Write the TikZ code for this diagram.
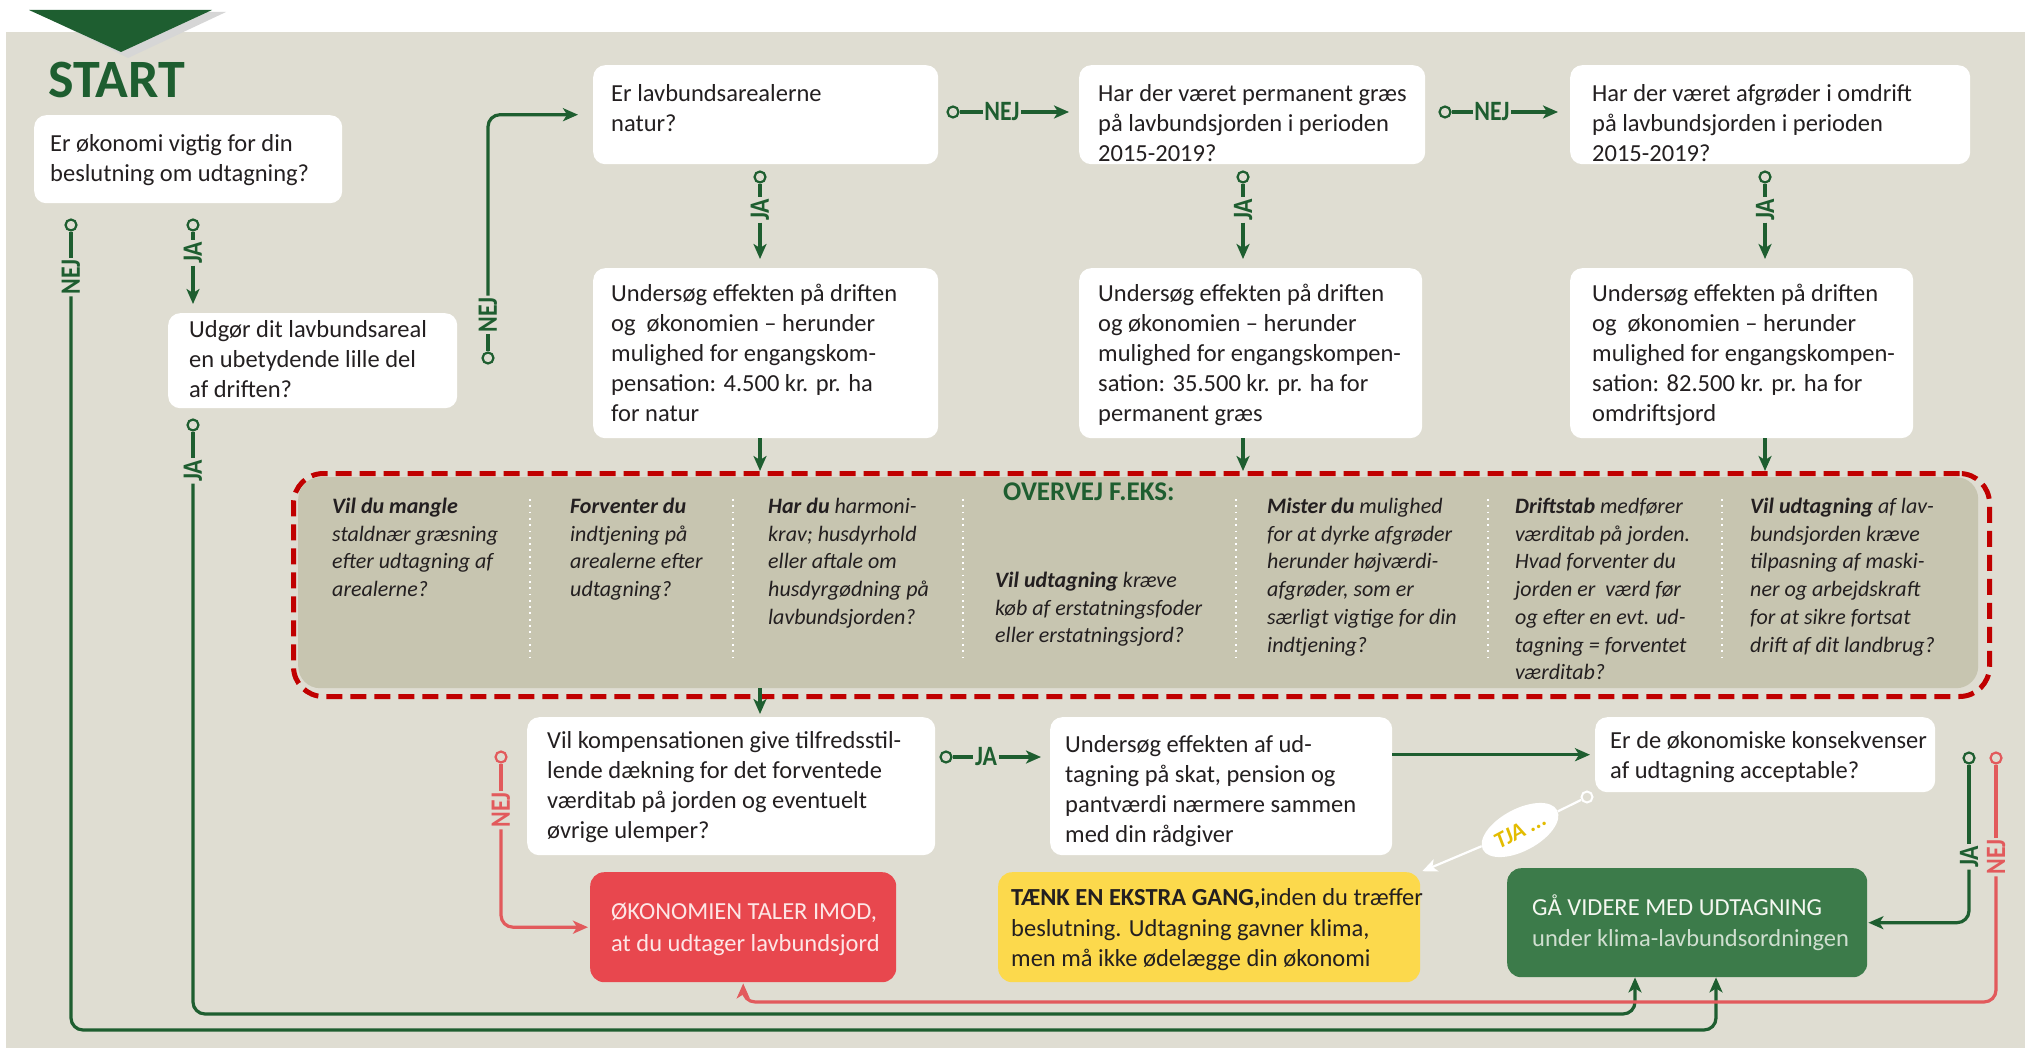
\documentclass[tikz,border=0pt]{standalone}
\usepackage{fontspec}
\setmainfont{Carlito}
\newfontfamily\labfont{Carlito}[FakeStretch=0.85]
\usetikzlibrary{arrows.meta,calc,shapes.geometric}

\definecolor{bgc}{HTML}{DFDDD2}
\definecolor{dkg}{HTML}{1E5E30}
\definecolor{bandc}{HTML}{C7C5B0}
\definecolor{dred}{HTML}{C00000}
\definecolor{rbox}{HTML}{E8474E}
\definecolor{rline}{HTML}{E25A5C}
\definecolor{ybox}{HTML}{FCD94C}
\definecolor{gbox}{HTML}{3C7B4A}
\definecolor{txt}{HTML}{231F20}
\definecolor{tjay}{HTML}{E3BC00}
\definecolor{lighttx}{HTML}{F4F7F0}
\definecolor{pinktx}{HTML}{FDE6E6}

\tikzset{
  qbox/.style={fill=white, rounded corners=12pt, inner sep=0pt, anchor=north west},
  tx/.style={inner sep=0pt, align=left, anchor=north west, text=txt, font=\fontsize{24.5}{30}\selectfont},
  bandtx/.style={inner sep=0pt, align=left, anchor=north west, text=txt, font=\itshape\fontsize{22}{27.7}\selectfont},
  gl/.style={draw=dkg, line width=3.2pt},
  rl/.style={draw=rline, line width=3.2pt},
  arr/.style={-{Stealth[length=15pt,width=13pt,inset=4pt]}},
  gcirc/.style={circle, draw=dkg, line width=2.2pt, fill=bgc, inner sep=0pt, minimum size=11pt},
  rcirc/.style={gcirc, draw=rline},
  glab/.style={inner sep=1.5pt, text=dkg, font=\labfont\bfseries\fontsize{28}{28}\selectfont},
  rlab/.style={glab, text=rline},
  sep/.style={draw=white, line width=1.8pt, dash pattern=on 1.8pt off 4.5pt},
}

\begin{document}
\begin{tikzpicture}[x=1pt,y=-1pt]
\useasboundingbox (0,0) rectangle (2025,1048);
\fill[white] (0,0) rectangle (2025,1048);
\fill[bgc] (6,32) rectangle (2025,1048);
% chevron
\fill[black!16] (36,12) -- (226,12) -- (128,58) -- cycle;
\fill[dkg] (29,10) -- (212,10) -- (121,52) -- cycle;

\coordinate (xa) at (760,0);
\coordinate (xb) at (1243,0);
\coordinate (xc) at (1765,0);
\coordinate (yLA) at (0,1030);
\coordinate (yLB) at (0,1014);
\coordinate (yLR) at (0,1002);
\coordinate (xF1) at (1635,0);
\coordinate (xF2) at (1716,0);

\node[anchor=base west, text=dkg, font=\bfseries\fontsize{54}{54}\selectfont, inner sep=0pt] (start) at (48,98) {START};

% ---- boxes ----
\node[qbox, minimum width=308pt, minimum height=88pt] (bA) at (34,115) {};
\node[tx] (bAt) at ($(bA.north west)+(16,15)$) {\strut Er økonomi vigtig for din\\beslutning om udtagning?};

\node[qbox, minimum width=289pt, minimum height=95pt] (bB) at (168,313) {};
\node[tx] (bBt) at ($(bB.north west)+(21,3)$) {\strut Udgør dit lavbundsareal\\en ubetydende lille del\\af driften?};

\node[qbox, minimum width=345pt, minimum height=99pt] (r1a) at (593,65) {};
\node[tx] (r1at) at ($(r1a.north west)+(18,15)$) {\strut Er lavbundsarealerne\\natur?};

\node[qbox, minimum width=346pt, minimum height=99pt] (r1b) at (1079,65) {};
\node[tx] (r1bt) at ($(r1b.north west)+(19,15)$) {\strut Har der været permanent græs\\på lavbundsjorden i perioden\\2015-2019?};

\node[qbox, minimum width=400pt, minimum height=99pt] (r1c) at (1570,65) {};
\node[tx] (r1ct) at ($(r1c.north west)+(22,15)$) {\strut Har der været afgrøder i omdrift\\på lavbundsjorden i perioden\\2015-2019?};

\node[qbox, minimum width=345pt, minimum height=170pt] (r2a) at (593,268) {};
\node[tx] (r2at) at ($(r2a.north west)+(18,12)$) {\strut Undersøg effekten på driften\\og\ \ økonomien -- herunder\\mulighed for engangskom-\\pensation: 4.500 kr. pr. ha\\for natur};

\node[qbox, minimum width=343pt, minimum height=170pt] (r2b) at (1079,268) {};
\node[tx] (r2bt) at ($(r2b.north west)+(19,12)$) {\strut Undersøg effekten på driften\\og økonomien -- herunder\\mulighed for engangskompen-\\sation: 35.500 kr. pr. ha for\\permanent græs};

\node[qbox, minimum width=343pt, minimum height=170pt] (r2c) at (1570,268) {};
\node[tx] (r2ct) at ($(r2c.north west)+(22,12)$) {\strut Undersøg effekten på driften\\og\ \ økonomien -- herunder\\mulighed for engangskompen-\\sation: 82.500 kr. pr. ha for\\omdriftsjord};

% ---- band ----
\node[draw=dred, line width=5pt, dash pattern=on 16pt off 8pt, rounded corners=30pt, minimum width=1696pt, minimum height=223pt, anchor=north west, inner sep=0pt] (band) at (291,471) {};
\node[fill=bandc, rounded corners=22pt, minimum width=1680pt, minimum height=211pt, anchor=north west, inner sep=0pt] (bandin) at (298,477) {};

\draw[sep] (530,499) -- (530,659);
\draw[sep] (733,499) -- (733,659);
\draw[sep] (963,499) -- (963,659);
\draw[sep] (1236,499) -- (1236,659);
\draw[sep] (1488,499) -- (1488,659);
\draw[sep] (1722,499) -- (1722,659);

\node[bandtx] (c1) at (332,494) {\strut\textbf{Vil du mangle}\\staldnær græsning\\efter udtagning af\\arealerne?};
\node[bandtx] (c2) at (570,494) {\strut\textbf{Forventer du}\\indtjening på\\arealerne efter\\udtagning?};
\node[bandtx] (c3) at (768,494) {\strut\textbf{Har du} harmoni-\\krav; husdyrhold\\eller aftale om\\husdyrgødning på\\lavbundsjorden?};
\node[anchor=west, text=dkg, font=\bfseries\fontsize{27}{27}\selectfont, inner sep=0pt] (overvej) at (1003,492) {OVERVEJ F.EKS:};
\node[bandtx] (c4) at (995,568) {\strut\textbf{Vil udtagning} kræve\\køb af erstatningsfoder\\eller erstatningsjord?};
\node[bandtx] (c5) at (1267,494) {\strut\textbf{Mister du} mulighed\\for at dyrke afgrøder\\herunder højværdi-\\afgrøder, som er\\særligt vigtige for din\\indtjening?};
\node[bandtx] (c6) at (1515,494) {\strut\textbf{Driftstab} medfører\\værditab på jorden.\\Hvad forventer du\\jorden er\ \ værd før\\og efter en evt. ud-\\tagning = forventet\\værditab?};
\node[bandtx] (c7) at (1750,494) {\strut\textbf{Vil udtagning} af lav-\\bundsjorden kræve\\tilpasning af maski-\\ner og arbejdskraft\\for at sikre fortsat\\drift af dit landbrug?};

% ---- lower boxes ----
\node[qbox, minimum width=408pt, minimum height=138pt] (bC) at (527,717) {};
\node[tx] (bCt) at ($(bC.north west)+(20,10)$) {\strut Vil kompensationen give tilfredsstil-\\lende dækning for det forventede\\værditab på jorden og eventuelt\\øvrige ulemper?};

\node[qbox, minimum width=342pt, minimum height=138pt] (bD) at (1050,717) {};
\node[tx] (bDt) at ($(bD.north west)+(15,14)$) {\strut Undersøg effekten af ud-\\tagning på skat, pension og\\pantværdi nærmere sammen\\med din rådgiver};

\node[qbox, minimum width=340pt, minimum height=75pt] (bE) at (1595,717) {};
\node[tx] (bEt) at ($(bE.north west)+(15,10)$) {\strut Er de økonomiske konsekvenser\\af udtagning acceptable?};

\node[qbox, fill=rbox, rounded corners=14pt, minimum width=306pt, minimum height=110pt] (rB) at (590,872) {};
\node[tx, text=pinktx, font=\fontsize{24.5}{32}\selectfont] (rBt) at ($(rB.north west)+(21,25)$) {\strut ØKONOMIEN TALER IMOD,\\at du udtager lavbundsjord};

\node[qbox, fill=ybox, rounded corners=14pt, minimum width=422pt, minimum height=110pt] (yB) at (998,872) {};
\node[tx, font=\fontsize{24.5}{30.5}\selectfont] (yBt) at ($(yB.north west)+(13,12)$) {\strut\textbf{TÆNK EN EKSTRA GANG,}inden du træffer\\beslutning. Udtagning gavner klima,\\men må ikke ødelægge din økonomi};

\node[qbox, fill=gbox, rounded corners=14pt, minimum width=360pt, minimum height=109pt] (gF) at (1507,868) {};
\node[tx, text=lighttx, font=\fontsize{24.5}{31}\selectfont] (gFt) at ($(gF.north west)+(25,26)$) {\strut GÅ VIDERE MED UDTAGNING\\{\color{lighttx!80!gbox}under klima-lavbundsordningen}};

% ---- connectors: start ----
\node[gcirc] (aNc) at (71,225) {};
\node[glab, rotate=90] (aN) at (71,277) {NEJ};
\draw[gl] (aNc) -- (aN.east);
\draw[gl, arr, rounded corners=12pt] (aN.west) -- (aN.west |- yLA) -| (xF2 |- gF.south);

\node[gcirc] (aJc) at (193,225) {};
\node[glab, rotate=90] (aJ) at (193,253) {JA};
\draw[gl] (aJc) -- (aJ.east);
\draw[gl, arr, shorten >=9pt] (aJ.west) -- (aJ.west |- bB.north);

\node[gcirc] (bJc) at (193,425) {};
\node[glab, rotate=90] (bJ) at (193,471) {JA};
\draw[gl] (bJc) -- (bJ.east);
\draw[gl, arr, rounded corners=12pt] (bJ.west) -- (bJ.west |- yLB) -| (xF1 |- gF.south);

\node[gcirc] (bNc) at (488,358) {};
\node[glab, rotate=90] (bN) at (488,315) {NEJ};
\draw[gl] (bNc) -- (bN.west);
\draw[gl, arr, rounded corners=12pt, shorten >=15pt] (bN.east) |- (r1a.west);

% ---- top row ----
\node[gcirc] (n1c) at (953,112) {};
\node[glab] (n1) at (1002,112) {NEJ};
\draw[gl] (n1c) -- (n1);
\draw[gl, arr, shorten >=10pt] (n1) -- (n1 -| r1b.west);

\node[gcirc] (n2c) at (1445,112) {};
\node[glab] (n2) at (1492,112) {NEJ};
\draw[gl] (n2c) -- (n2);
\draw[gl, arr, shorten >=12pt] (n2) -- (n2 -| r1c.west);

\node[gcirc] (j1c) at (xa |- 0,177) {};
\node[glab, rotate=90] (j1) at (xa |- 0,210) {JA};
\draw[gl] (j1c) -- (j1.east);
\draw[gl, arr, shorten >=9pt] (j1.west) -- (j1.west |- r2a.north);

\node[gcirc] (j2c) at (xb |- 0,177) {};
\node[glab, rotate=90] (j2) at (xb |- 0,210) {JA};
\draw[gl] (j2c) -- (j2.east);
\draw[gl, arr, shorten >=9pt] (j2.west) -- (j2.west |- r2b.north);

\node[gcirc] (j3c) at (xc |- 0,177) {};
\node[glab, rotate=90] (j3) at (xc |- 0,210) {JA};
\draw[gl] (j3c) -- (j3.east);
\draw[gl, arr, shorten >=9pt] (j3.west) -- (j3.west |- r2c.north);

\draw[gl, arr] (xa |- r2a.south) -- (xa |- band.north);
\draw[gl, arr] (xb |- r2b.south) -- (xb |- band.north);
\draw[gl, arr] (xc |- r2c.south) -- (xc |- band.north);
\draw[gl, arr, shorten >=3pt] (xa |- bandin.south) -- (xa |- bC.north);

% ---- lower row ----
\node[gcirc] (cJc) at (946,757) {};
\node[glab] (cJ) at (986,757) {JA};
\draw[gl] (cJc) -- (cJ);
\draw[gl, arr, shorten >=9pt] (cJ) -- (cJ -| bD.west);

\draw[gl, arr, shorten >=5pt] (bD.east |- bE.west) -- (bE.west);

\node[rcirc] (cNc) at (501,757) {};
\node[rlab, rotate=90] (cN) at (501,810) {NEJ};
\draw[rl] (cNc) -- (cN.east);
\draw[rl, arr, rounded corners=12pt, shorten >=2pt] (cN.west) |- (rB.west);

\node[gcirc] (eJc) at (1969,758) {};
\node[glab, rotate=90] (eJ) at (1969,857) {JA};
\draw[gl] (eJc) -- (eJ.east);
\draw[gl, arr, rounded corners=12pt, shorten >=1pt] (eJ.west) |- (gF.east);

\node[rcirc] (eNc) at (1996,758) {};
\node[rlab, rotate=90] (eN) at (1996,857) {NEJ};
\draw[rl] (eNc) -- (eN.east);
\draw[rl, arr, rounded corners=12pt, shorten >=1pt] (eN.west) -- (eN.west |- yLR) -| (rB.south);

% ---- TJA ----
\node[circle, draw=white, line width=2pt, fill=bgc, inner sep=0pt, minimum size=11pt] (tc) at (1587,797) {};
\node[ellipse, fill=white, rotate=28, minimum width=84pt, minimum height=42pt, inner sep=0pt, text=tjay, font=\bfseries\itshape\fontsize{23}{23}\selectfont] (tja) at (1520,830) {TJA ...};
\draw[white, line width=2.2pt] (tc) -- (tja);
\draw[white, line width=2.2pt, arr, shorten >=2pt] (tja) -- (yB.north east);
\end{tikzpicture}
\end{document}
